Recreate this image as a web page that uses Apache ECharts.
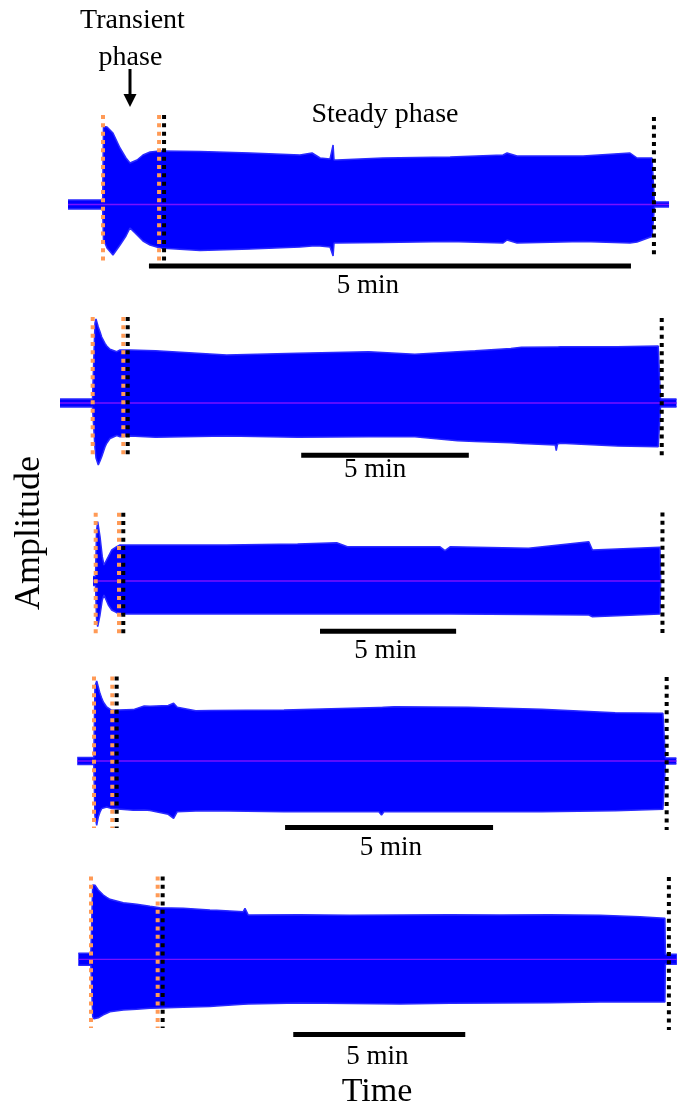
<!DOCTYPE html>
<html lang="en">
<head>
    <meta charset="UTF-8">
    <title>Transient and steady phase</title>
    <script type="text/javascript" src="https://cdn.jsdelivr.net/npm/echarts@6/dist/echarts.min.js"></script>
    <style>html, body { margin: 0; padding: 0; background: #fff; }</style>
</head>
<body>
<div id="chart" style="width:677px;height:1109px;"></div>
<script type="text/javascript">
    // time in seconds from onset, amplitude in arbitrary units (upper / lower envelope)
    var p1Time = [-21.8, -0.2, 0.3, 1.2, 2.5, 6.2, 10.6, 14.3, 16.8, 21.2, 24.9, 29.3, 35.5, 60.4, 91.5, 122.6, 130.1, 135.1, 141.3, 142.5, 143.2, 143.8, 145.6, 174.3, 216.0, 249.0, 251.5, 257.7, 298.8, 328.0, 332.4, 341.7, 342.9, 343.2, 352.3];
    var p1Upper = [4.5, 4.5, 78, 79.5, 77.5, 71.5, 56.5, 46.5, 41.5, 44.5, 49.5, 52.5, 53.5, 53, 51.5, 49.5, 51.5, 46.5, 45.5, 45.5, 59.5, 44.5, 44.5, 46.5, 47.5, 49.5, 51.5, 48.5, 48.5, 51.5, 46.5, 46.5, 46.5, 2.5, 2.5];
    var p1Lower = [-4.5, -4.5, -36, -38.5, -43.5, -50.5, -40.5, -31.5, -23.5, -30.5, -36.5, -40.5, -43.5, -46, -44.5, -42.5, -41.5, -41.5, -42.5, -42.5, -51.5, -38.5, -38.5, -38, -37, -38.5, -35.5, -38.5, -37, -38.5, -37.5, -32, -32, -2.5, -2.5];

    var p2Time = [-58.5, -0.4, 4.1, 5.9, 10.0, 13.1, 16.1, 22.0, 25.1, 31.0, 34.0, 43.0, 48.9, 66.8, 112.4, 239.7, 366.8, 494.0, 576.6, 653.0, 684.7, 748.4, 767.4, 827.9, 829.7, 832.0, 837.4, 939.0, 1012.2, 1015.4, 1016.3, 1045];
    var p2Upper = [4, 4, 80, 84, 76, 71.3, 66, 59.7, 57, 53.7, 52.5, 51.3, 53, 53, 52.3, 48, 49.7, 51.3, 48.7, 51.3, 52.3, 54.5, 55.7, 56, 56, 56, 56.3, 56.3, 57, 57, 4, 4];
    var p2Lower = [-4, -4, -45, -55, -62, -58, -53.7, -44, -40.3, -35.5, -33.7, -32.5, -33.7, -33, -34.3, -33, -34.3, -33.7, -33.7, -37.7, -38.5, -39.7, -40.5, -42, -47.7, -41, -40.3, -43, -43.7, -43.7, -4, -4];

    var p3Time = [-6.0, -0.4, 1.8, 4.4, 9.5, 14.5, 18.3, 22.7, 27.8, 35.3, 46.3, 53.6, 68.3, 288.5, 445.0, 531.2, 554.8, 758.2, 769.9, 781.8, 953.9, 1087.0, 1094.9, 1243.7, 1245.3];
    var p3Upper = [4.5, 4.5, 50, 59.3, 44.3, 24.3, 16, 16, 24.3, 31, 34.3, 36, 36, 36, 37, 38.3, 34.3, 34.3, 30.3, 34.3, 32.7, 39.3, 31, 33.7, 0];
    var p3Lower = [-4.5, -4.5, -38, -45.7, -34, -19, -14, -15.7, -24, -29, -31.7, -33, -33, -33, -33, -33, -33, -33, -33, -33, -33.5, -34, -35.7, -33, 0];

    var p4Time = [-24.1, -0.3, 1.4, 3.9, 6.2, 8.7, 11.1, 13.4, 18.3, 20.6, 25.5, 56.7, 72.4, 80.8, 107.1, 114.8, 120.1, 146.7, 167.8, 274.0, 410.9, 414.7, 418.2, 433.2, 539.3, 645.6, 751.7, 820.6, 823.4, 824.2, 840];
    var p4Upper = [3.5, 3.5, 75, 80, 74, 67.4, 63, 59, 54, 52.4, 50.7, 51.4, 55, 54.7, 55.5, 57.7, 53.7, 50.3, 50.5, 51, 53.5, 53.5, 53.8, 54.3, 53.7, 51.7, 48.3, 47.7, 47.7, 3, 3];
    var p4Lower = [-3.5, -3.5, -55, -64.3, -56, -51, -47.6, -47, -46, -46.5, -47.6, -49.3, -49, -49.5, -53.3, -57.3, -50.7, -50, -49.7, -50.7, -50.7, -54, -50.7, -50.7, -50.7, -50.7, -49.7, -48.3, -48.3, -3, -3];

    var p5Time = [-22.1, -0.3, 3.0, 5.2, 7.0, 12.7, 15.7, 21.5, 27.4, 33.1, 56.3, 79.7, 102.9, 120.3, 161.0, 207.5, 219.2, 265.6, 268.6, 274.3, 364.5, 451.7, 538.9, 626.1, 713.3, 800.5, 887.7, 957.5, 1001.1, 1001.9, 1021.9];
    var p5Upper = [6, 6, 74.3, 76, 74, 69.3, 67.5, 64.3, 62, 60, 56.6, 55, 53, 51.6, 51, 49.3, 49, 47.6, 51, 44.3, 44.5, 44, 44.3, 44.5, 44.3, 44.5, 44, 42.5, 41, 5, 5];
    var p5Lower = [-6, -6, -57.4, -59.5, -60.7, -58.5, -57.4, -55.5, -54, -52.5, -50.7, -50, -49, -48.7, -48, -47.3, -46.7, -45, -45, -44.7, -43.7, -44.2, -44.7, -44, -43.7, -43.5, -42.7, -42.7, -42.7, -5, -5];

    // phase boundaries: onset, end of transient, start of steady, end of steady (s)
    var p1Phases = [0, 34.9, 38.0, 342.9];
    var p2Phases = [0, 54.8, 62.7, 1018.5];
    var p3Phases = [0, 51.4, 60.8, 1249.2];
    var p4Phases = [0, 26.4, 32.7, 826.0];
    var p5Phases = [0, 116.3, 125.0, 1008.0];

    // start of the 5 min scale bar (s)
    var barStarts = [28.6, 373.2, 494.4, 275.6, 352.8];
    var barLength = 300;
    var barText = '5 min';

    var panels = [
        {time: p1Time, upper: p1Upper, lower: p1Lower, phases: p1Phases},
        {time: p2Time, upper: p2Upper, lower: p2Lower, phases: p2Phases},
        {time: p3Time, upper: p3Upper, lower: p3Lower, phases: p3Phases},
        {time: p4Time, upper: p4Upper, lower: p4Lower, phases: p4Phases},
        {time: p5Time, upper: p5Upper, lower: p5Lower, phases: p5Phases}
    ];

    // layout in pixels (onset x, px per second, centre y, half height) and annotation placement
    var layout = [
        {onset: 103, pps: 1.6067, center: 204.5, half: 100, xMin: -25, xMax: 355, top: 89.5, bottom: -57, endTop: 87.5, endBottom: -52.5, barY: -61.5, labelX: 164.9, labelY: -81},
        {onset: 92.7, pps: 0.5587, center: 403, half: 90, xMin: -60, xMax: 1045, top: 86, bottom: -55, endTop: 85, endBottom: -53, barY: -52.3, labelX: 505.3, labelY: -67},
        {onset: 95.7, pps: 0.4537, center: 581, half: 85, xMin: -10, xMax: 1280, top: 68.3, bottom: -55, endTop: 68.5, endBottom: -56, barY: -50.3, labelX: 638.7, labelY: -70},
        {onset: 94, pps: 0.6933, center: 761, half: 100, xMin: -25, xMax: 840, top: 84.5, bottom: -67, endTop: 84, endBottom: -69, barY: -66.5, labelX: 428.3, labelY: -87},
        {onset: 91, pps: 0.5733, center: 959.3, half: 110, xMin: -25, xMax: 1022, top: 82.8, bottom: -68.7, endTop: 82.3, endBottom: -70.7, barY: -75.2, labelX: 499.7, labelY: -97.5}
    ];

    var blue = '#0000ff';
    var zeroColor = '#7a10ff';
    var orange = '#ff9a56';
    var serif = 'Liberation Serif';

    function pairs(xs, ys) {
        return xs.map(function (x, i) { return [x, ys[i]]; });
    }

    function dotted(idx, t, y0, y1, color) {
        return {
            type: 'line', xAxisIndex: idx, yAxisIndex: idx, silent: true, z: 5,
            showSymbol: false, symbol: 'none',
            data: [[t, y0], [t, y1]],
            lineStyle: {color: color, width: 4, type: [4, 4.33], cap: 'butt'}
        };
    }

    var grids = [], xAxes = [], yAxes = [], series = [];

    panels.forEach(function (p, i) {
        var L = layout[i];
        grids.push({
            left: L.onset + L.xMin * L.pps,
            width: (L.xMax - L.xMin) * L.pps,
            top: L.center - L.half,
            height: 2 * L.half,
            containLabel: false,
            outerBoundsMode: 'none'
        });
        xAxes.push({type: 'value', gridIndex: i, min: L.xMin, max: L.xMax, show: false});
        yAxes.push({type: 'value', gridIndex: i, min: -L.half, max: L.half, show: false});

        // envelope, both halves filled to zero
        [p.upper, p.lower].forEach(function (env) {
            series.push({
                type: 'line', xAxisIndex: i, yAxisIndex: i, silent: true, z: 2,
                showSymbol: false, symbol: 'none',
                data: pairs(p.time, env),
                lineStyle: {color: '#2a2aff', width: 1.5},
                areaStyle: {color: blue, opacity: 1}
            });
        });

        // zero line
        series.push({
            type: 'line', xAxisIndex: i, yAxisIndex: i, silent: true, z: 3,
            showSymbol: false, symbol: 'none',
            data: [[p.time[0], 0], [p.time[p.time.length - 1], 0]],
            lineStyle: {color: zeroColor, width: 1.3}
        });

        // phase markers
        series.push(dotted(i, p.phases[0], L.top, L.bottom, orange));
        series.push(dotted(i, p.phases[1], L.top, L.bottom, orange));
        series.push(dotted(i, p.phases[2], L.top, L.bottom, '#000'));
        series.push(dotted(i, p.phases[3], L.endTop, L.endBottom, '#000'));

        // scale bar
        series.push({
            type: 'line', xAxisIndex: i, yAxisIndex: i, silent: true, z: 5,
            showSymbol: false, symbol: 'none',
            data: [[barStarts[i], L.barY], [barStarts[i] + barLength, L.barY]],
            lineStyle: {color: '#000', width: 5, cap: 'butt'}
        });
        series.push({
            type: 'scatter', xAxisIndex: i, yAxisIndex: i, silent: true, z: 5,
            symbolSize: 1,
            itemStyle: {color: 'rgba(0,0,0,0)', opacity: 1},
            data: [[L.labelX, L.labelY]],
            label: {
                show: true, position: 'inside', formatter: barText,
                color: '#000', opacity: 1, fontFamily: serif, fontSize: 27,
                textBorderWidth: 0, textShadowBlur: 0
            }
        });
    });

    var myChart = echarts.init(document.getElementById('chart'), null, {renderer: 'canvas'});

    var option = {
        animation: false,
        backgroundColor: '#fff',
        grid: grids,
        xAxis: xAxes,
        yAxis: yAxes,
        series: series,
        graphic: [
            {type: 'text', silent: true, style: {text: 'Transient', x: 132.5, y: 21, fill: '#000', font: '28px "Liberation Serif"', textAlign: 'center', textVerticalAlign: 'middle'}},
            {type: 'text', silent: true, style: {text: 'phase', x: 130.5, y: 58, fill: '#000', font: '28px "Liberation Serif"', textAlign: 'center', textVerticalAlign: 'middle'}},
            {type: 'line', silent: true, shape: {x1: 130, y1: 69, x2: 130, y2: 98}, style: {stroke: '#000', lineWidth: 3}},
            {type: 'polygon', silent: true, shape: {points: [[123.5, 94], [136.5, 94], [130, 107]]}, style: {fill: '#000'}},
            {type: 'text', silent: true, style: {text: 'Steady phase', x: 385, y: 115, fill: '#000', font: '28px "Liberation Serif"', textAlign: 'center', textVerticalAlign: 'middle'}},
            {type: 'text', silent: true, x: 30, y: 533, rotation: Math.PI / 2, style: {text: 'Amplitude', x: 0, y: 0, fill: '#000', font: '36px "Liberation Serif"', textAlign: 'center', textVerticalAlign: 'middle'}},
            {type: 'text', silent: true, style: {text: 'Time', x: 377, y: 1092, fill: '#000', font: '34px "Liberation Serif"', textAlign: 'center', textVerticalAlign: 'middle'}}
        ]
    };
    myChart.setOption(option);
</script>
</body>
</html>
